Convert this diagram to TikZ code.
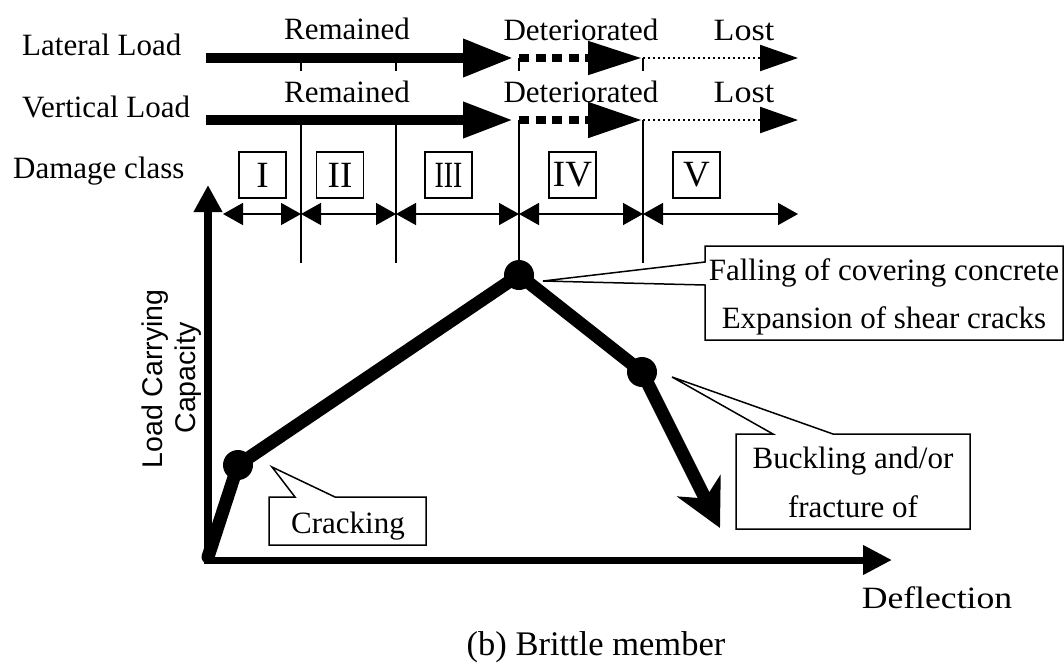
\documentclass[tikz,border=0pt]{standalone}
\usepackage{fontspec}
\setmainfont{Liberation Serif}
\newfontfamily\labelsans{Liberation Sans}
\usetikzlibrary{arrows.meta}
\begin{document}
\begin{tikzpicture}[x=1pt,y=-1pt,
  lbl/.style={inner sep=0pt, anchor=base, font=\fontsize{31}{37}\selectfont},
  rule/.style={line width=1.5pt},
  solidload/.style={line width=10pt, -{Triangle[length=50pt,width=#1]}},
  dashload/.style={line width=8pt, dash pattern=on 10pt off 6.5pt, -{Triangle[length=54pt,width=#1]}},
  dotload/.style={line width=2.2pt, dash pattern=on 2pt off 3pt, -{Triangle[length=38pt,width=26pt]}},
  dimarrow/.style={line width=1.5pt, {Triangle[length=20pt,width=22pt]}-{Triangle[length=20pt,width=22pt]}},
  clsbox/.style={draw, line width=1.5pt, minimum width=47pt, minimum height=46pt, inner sep=0pt, font=\fontsize{37}{40}\selectfont},
  callout/.style={draw, line width=1.5pt, fill=white, line join=miter},
  bigdot/.style={circle, fill=black, minimum size=30pt, inner sep=0pt},
  axislbl/.style={inner sep=0pt, anchor=base, rotate=90, font=\labelsans\fontsize{28.5}{34}\selectfont}
]
\useasboundingbox (0,0) rectangle (1064,665);

% ---------- row labels ----------
\node[lbl, anchor=base west] (lat) at (22,55) {Lateral Load};
\node[lbl, anchor=base west] (ver) at (22,117) {Vertical Load};
\node[lbl, anchor=base west] (dmg) at (13,178) {Damage class};

\node[lbl] (rem1) at (347,39) {Remained};
\node[lbl] (det1) at (581,40) {Deteriorated};
\node[lbl] (lost1) at (744,40) {\scalebox{1.1}[1]{Lost}};
\node[lbl] (rem2) at (347,102) {Remained};
\node[lbl] (det2) at (581,102) {Deteriorated};
\node[lbl] (lost2) at (744,102) {\scalebox{1.1}[1]{Lost}};

% ---------- row 1 (lateral) ----------
\coordinate (a1) at (206,58);  \coordinate (b1) at (513,58);
\coordinate (c1) at (519,58);  \coordinate (d1) at (642,58);
\coordinate (e1) at (643,58);  \coordinate (f1) at (798,58);
\draw[solidload=36pt] (a1) -- (b1);
\draw[dashload=32pt] (c1) -- (d1);
\draw[dotload] (e1) -- (f1);
\foreach \x in {301,396,519,643} \draw[rule] (\x,58) -- (\x,71);

% ---------- row 2 (vertical) ----------
\coordinate (a2) at (206,120);  \coordinate (b2) at (513,120);
\coordinate (c2) at (519,120);  \coordinate (d2) at (642,120);
\coordinate (e2) at (643,120);  \coordinate (f2) at (798,120);
\draw[solidload=34pt] (a2) -- (b2);
\draw[dashload=34pt] (c2) -- (d2);
\draw[dotload] (e2) -- (f2);

% ---------- damage classes ----------
\node[clsbox] (cI)   at (262.5,175) {I};
\node[clsbox] (cII)  at (340,175) {II};
\node[clsbox] (cIII) at (448.5,175) {\scalebox{0.75}[1]{III}};
\node[clsbox] (cIV)  at (572.5,175) {IV};
\node[clsbox] (cV)   at (696.5,175) {V};

\coordinate (D0) at (223,214); \coordinate (D1) at (301,214);
\coordinate (D2) at (396,214); \coordinate (D3) at (519,214);
\coordinate (D4) at (643,214); \coordinate (D5) at (798,214);
\draw[dimarrow] (D0) -- (D1);
\draw[dimarrow] (D1) -- (D2);
\draw[dimarrow] (D2) -- (D3);
\draw[dimarrow] (D3) -- (D4);
\draw[dimarrow] (D4) -- (D5);

% ---------- axes ----------
\coordinate (O) at (208,560);
\draw[line width=8pt, -{Triangle[length=27pt,width=27pt]}] (208,564) -- (208,185);
\draw[line width=7pt, -{Triangle[length=29pt,width=28pt]}] (204,560) -- (892,560);

% ---------- curve ----------
\coordinate (C0) at (208,557);
\coordinate (Ctip) at (720,528);
\coordinate (C1p) at (238,465);
\coordinate (Pp) at (519,275);
\coordinate (C2p) at (642,372);
\draw[rule] (c2) -- (Pp);
\draw[rule] (D1 |- c2) -- (301,263);
\draw[rule] (D2 |- c2) -- (396,263);
\draw[rule] (e2) -- (643,263);
\draw[line width=13pt, line cap=round, -{Stealth[length=47pt,width=48pt,inset=14pt]}]
  (C0) -- (C1p) -- (Pp) -- (C2p) -- (Ctip);
\node[bigdot] (C1) at (C1p) {};
\node[bigdot] (P) at (Pp) {};
\node[bigdot] (C2) at (C2p) {};

% ---------- callouts ----------
\draw[callout] (269,497) -- (295,497) -- (272,467) -- (335,497) -- (426,497) -- (426,545) -- (269,545) -- cycle;
\node[lbl] (crack) at (348,533) {Cracking};

\draw[callout] (736,434) -- (773,434) -- (672,377) -- (833,434) -- (970,434) -- (970,529) -- (736,529) -- cycle;
\node[lbl] (buck1) at (853,468) {Buckling and/or};
\node[lbl] (buck2) at (853,517) {fracture of};

\draw[callout] (705,246) -- (1063,246) -- (1063,340) -- (705,340) -- (705,285) -- (543,281) -- (705,262) -- cycle;
\node[lbl] (fall1) at (884,280) {Falling of covering concrete};
\node[lbl] (fall2) at (884,328) {Expansion of shear cracks};

% ---------- axis labels ----------
\node[axislbl] (ylab1) at (162,379) {Load Carrying};
\node[axislbl] (ylab2) at (195,378) {Capacity};
\node[lbl] (xlab) at (937,608) {\scalebox{1.15}[1]{Deflection}};
\node[lbl, font=\fontsize{34.5}{40}\selectfont] (cap) at (596,655) {(b) Brittle member};
\end{tikzpicture}
\end{document}
